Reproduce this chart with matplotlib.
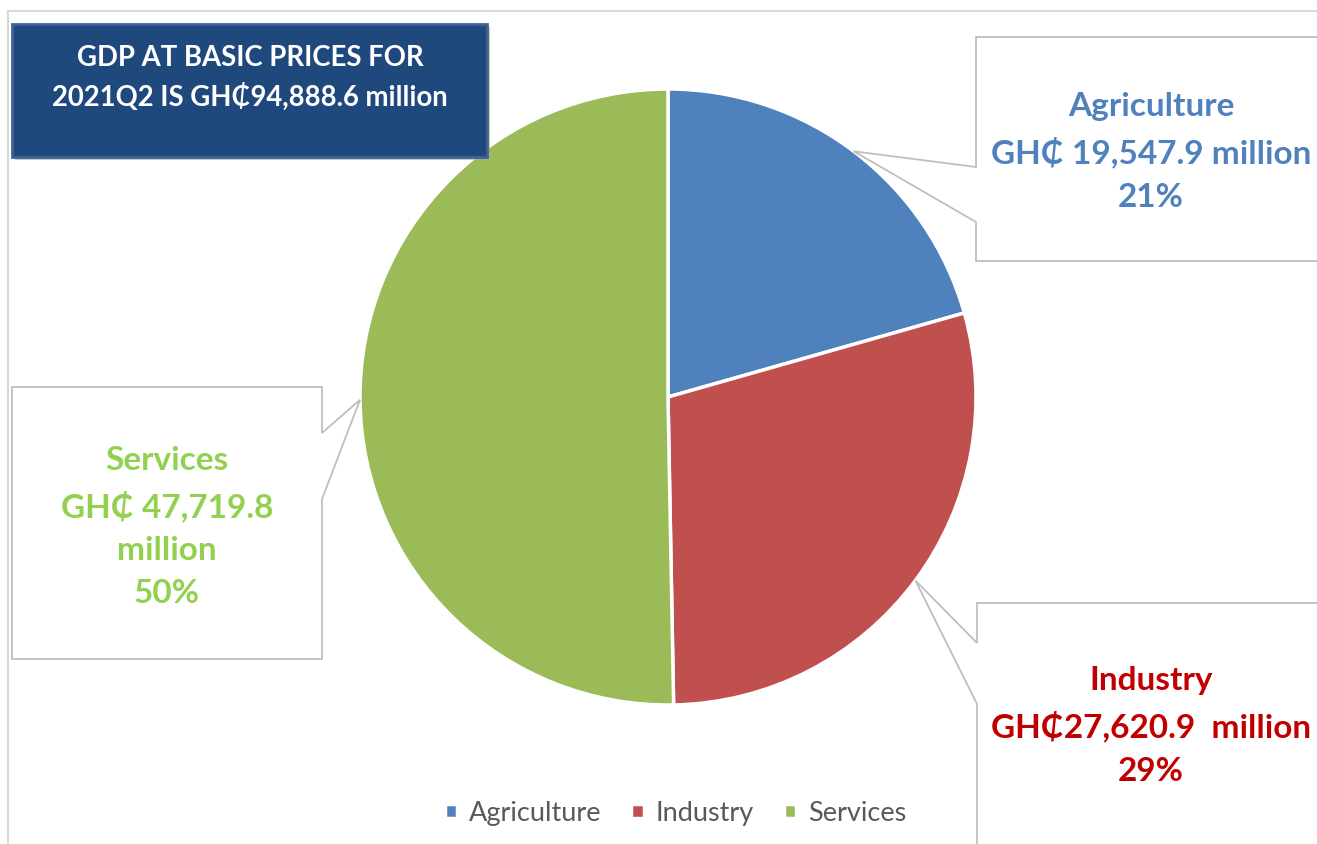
import numpy as np
import matplotlib.pyplot as plt
from matplotlib.patches import Polygon, FancyBboxPatch
from matplotlib.lines import Line2D

plt.rcParams['font.family'] = ['Lato', 'DejaVu Sans']

# data
sectors = ['Agriculture', 'Industry', 'Services']
values = [19547.9, 27620.9, 47719.8]
colors = ['#4F81BD', '#C0504D', '#9BBB59']
label_colors = ['#4F81BD', '#C00000', '#92D050']
label_texts = ['Agriculture\nGH₵ 19,547.9 million\n21%',
               'Industry\nGH₵27,620.9  million\n29%',
               'Services\nGH₵ 47,719.8\nmillion\n50%']
title_text = 'GDP AT BASIC PRICES FOR\n2021Q2 IS GH₵94,888.6 million'

W, H = 1317, 845
fig = plt.figure(figsize=(W / 100, H / 100), dpi=100)
ax = fig.add_axes([0, 0, 1, 1])

cx, cy, r = 668, H - 398, 308
wedges, _ = ax.pie(values, colors=colors, startangle=90, counterclock=False,
                   center=(cx, cy), radius=r,
                   wedgeprops=dict(edgecolor='white', linewidth=2.5))
ax.set_xlim(0, W)
ax.set_ylim(0, H)
ax.set_aspect('equal')
ax.axis('off')

# outer chart frame
ax.add_line(Line2D([8, W], [H - 12, H - 12], color='#D9D9D9', lw=1.5))
ax.add_line(Line2D([8, 8], [0, H - 12], color='#D9D9D9', lw=1.5))

# tips of callouts at the middle of each slice edge
fracs = np.array(values) / sum(values)
mids = np.cumsum(fracs) - fracs / 2
tips = [(cx + r * np.sin(2 * np.pi * m), cy + r * np.cos(2 * np.pi * m)) for m in mids]

# callout boxes: (left, top, right, bottom) and pointer base on one side
boxes = [
    (976, 38, 1335, 262, 'left', 168, 223),
    (977, 604, 1335, 860, 'left', 644, 705),
    (12, 388, 322, 660, 'right', 434, 500),
]
for (x0, y0, x1, y1, side, p0, p1), tip in zip(boxes, tips):
    if side == 'left':
        pts = [(x0, y0), (x1, y0), (x1, y1), (x0, y1), (x0, p1), None, (x0, p0)]
    else:
        pts = [(x0, y0), (x1, y0), (x1, p0), None, (x1, p1), (x1, y1), (x0, y1)]
    verts = [(tip[0], tip[1]) if p is None else (p[0], H - p[1]) for p in pts]
    ax.add_patch(Polygon(verts, closed=True, facecolor='white',
                         edgecolor='#BFBFBF', lw=1.3, zorder=3))

label_pos = [(1151, 152), (1151, 726), (167, 527)]
for (x, y), txt, c in zip(label_pos, label_texts, label_colors):
    ax.text(x, H - y, txt, color=c, fontsize=24, fontweight='bold',
            ha='center', va='center', linespacing=1.58, zorder=4)

# title box with shadow
ax.add_patch(FancyBboxPatch((15, H - 161), 475, 133, boxstyle='square,pad=0',
                            facecolor='#A6A6A6', edgecolor='none', alpha=0.6, zorder=4))
ax.add_patch(FancyBboxPatch((12, H - 158), 475, 133, boxstyle='square,pad=0',
                            facecolor='#1F497D', edgecolor='#3F6494', lw=2, zorder=5))
ax.text(250, H - 78, title_text, color='white', fontsize=19.8, fontweight='bold',
        ha='center', va='center', linespacing=1.5, zorder=6)

leg = fig.legend(wedges, sectors, loc='center', bbox_to_anchor=(0.513, 1 - 814 / H),
                 ncol=3, frameon=False, fontsize=19.5, handlelength=0.45,
                 handleheight=0.45, handletextpad=0.45, columnspacing=1.1)
for t in leg.get_texts():
    t.set_color('#595959')

fig.savefig('out.png', dpi=100)
